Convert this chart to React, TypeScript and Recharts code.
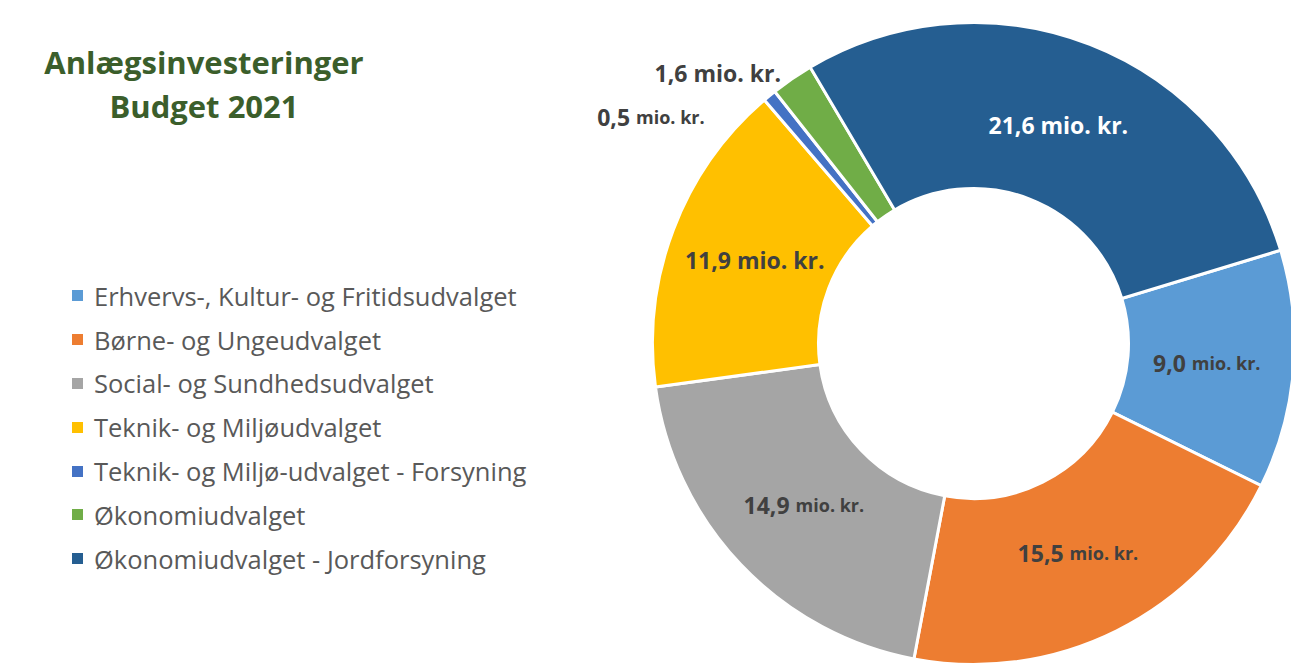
import React from "react";
import { PieChart, Pie, Cell, Legend } from "recharts";

const categories = [
  "Erhvervs-, Kultur- og Fritidsudvalget",
  "Børne- og Ungeudvalget",
  "Social- og Sundhedsudvalget",
  "Teknik- og Miljøudvalget",
  "Teknik- og Miljø-udvalget - Forsyning",
  "Økonomiudvalget",
  "Økonomiudvalget - Jordforsyning",
];

const amounts = [9.0, 15.5, 14.9, 11.9, 0.5, 1.6, 21.6];

const colours = [
  "#5B9BD5",
  "#ED7D31",
  "#A5A5A5",
  "#FFC000",
  "#4472C4",
  "#70AD47",
  "#255E91",
];

const data = categories.map((name, i) => ({ name, value: amounts[i] }));

const FONT = "'Open Sans', 'Noto Sans', sans-serif";
const RADIAN = Math.PI / 180;

// slices where Excel shrank the "mio. kr." part
const smallUnit = [true, true, true, false, true, false, false];

// small slices have their labels pulled out to the left
const outside: { [k: number]: { r: number; da: number } } = {
  4: { r: 394, da: 15.5 },
  5: { r: 372, da: 9 },
};

const renderLabel = (props: any) => {
  const { cx, cy, midAngle, innerRadius, outerRadius, index, value } = props;
  let r = (innerRadius + outerRadius) / 2 - 4;
  let a = midAngle;
  if (outside[index]) {
    r = outside[index].r;
    a = midAngle + outside[index].da;
  }
  const x = cx + r * Math.cos(-a * RADIAN);
  const y = cy + r * Math.sin(-a * RADIAN);
  const fill = index === 6 ? "#FFFFFF" : "#404040";
  const num = value.toFixed(1).replace(".", ",");
  return (
    <text
      x={x}
      y={y}
      textAnchor="middle"
      dominantBaseline="central"
      fill={fill}
      fontFamily={FONT}
      fontWeight={700}
      fontSize={23}
    >
      <tspan>{num} </tspan>
      <tspan fontSize={smallUnit[index] ? 18 : 23}>mio. kr.</tspan>
    </text>
  );
};

const renderLegend = (props: any) => {
  const { payload } = props;
  return (
    <div style={{ fontFamily: FONT }}>
      {payload.map((entry: any, i: number) => (
        <div
          key={i}
          style={{
            display: "flex",
            alignItems: "center",
            height: 43.8,
          }}
        >
          <span
            style={{
              display: "inline-block",
              width: 11,
              height: 11,
              background: entry.color,
              marginRight: 11,
            }}
          />
          <span style={{ color: "#595959", fontSize: 25.5 }}>{entry.value}</span>
        </div>
      ))}
    </div>
  );
};

export default function App() {
  return (
    <div
      style={{
        position: "absolute",
        left: 0,
        top: 0,
        width: 1291,
        height: 672,
        background: "#FFFFFF",
      }}
    >
      <div
        style={{
          position: "absolute",
          left: 0,
          top: 40,
          width: 408,
          textAlign: "center",
          color: "#3B5E2B",
          fontFamily: FONT,
          fontWeight: 700,
          fontSize: 31,
          lineHeight: "44px",
        }}
      >
        Anlægsinvesteringer
        <br />
        Budget 2021
      </div>
      <PieChart width={1291} height={672}>
        <Pie
          data={data}
          dataKey="value"
          nameKey="name"
          cx={968.5}
          cy={338.5}
          innerRadius={155}
          outerRadius={321}
          startAngle={16.9}
          endAngle={-343.1}
          stroke="#FFFFFF"
          strokeWidth={3}
          label={renderLabel}
          labelLine={false}
          isAnimationActive={false}
        >
          {data.map((d, i) => (
            <Cell key={d.name} fill={colours[i]} />
          ))}
        </Pie>
        <Legend
          layout="vertical"
          content={renderLegend}
          itemSorter={(item: any) => categories.indexOf(item.value)}
          wrapperStyle={{ left: 72, top: 274, width: 560 }}
        />
      </PieChart>
    </div>
  );
}
